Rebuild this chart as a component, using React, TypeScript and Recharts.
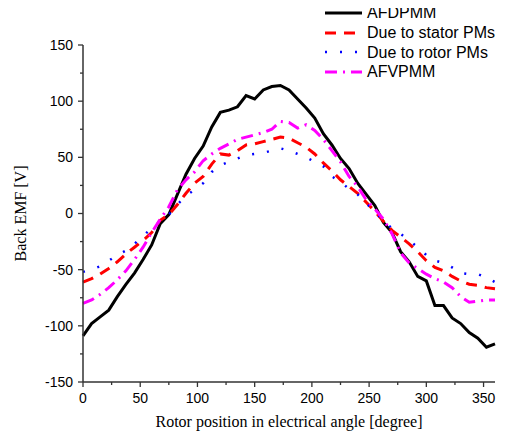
import { LineChart, Line, XAxis, YAxis, Legend } from 'recharts';

const angles = [
  0, 7.5, 15, 22.5, 30, 37.5, 45, 52.5, 60, 67.5, 75, 82.5, 90, 97.5, 105, 112.5, 120,
  127.5, 135, 142.5, 150, 157.5, 165, 172.5, 180, 187.5, 195, 202.5, 210, 217.5, 225,
  232.5, 240, 247.5, 255, 262.5, 270, 277.5, 285, 292.5, 300, 307.5, 315, 322.5, 330,
  337.5, 345, 352.5, 360,
];

const afdpmm = [
  -109, -98, -92, -86, -74, -63, -53, -41, -28, -9, -1, 17, 35, 49, 60, 77, 90,
  92, 95, 105, 102, 110, 113, 114, 110, 102, 94, 85, 71, 61, 49, 40, 27, 17, 7,
  -8, -17, -34, -43, -56, -60, -82, -82, -93, -98, -106, -111, -119, -116,
];

const statorPMs = [
  -61, -58, -54, -49, -43, -36, -30, -24, -17, -6, -1, 8, 18, 27, 33, 44, 53,
  52, 56, 61, 62, 64, 66, 68, 67, 63, 59, 53, 45, 38, 30, 24, 18, 10, 2,
  -7, -15, -21, -27, -34, -42, -48, -51, -56, -60, -63, -64, -66, -67,
];

const rotorPMs = [
  -52, -50, -47, -42, -37, -33, -27, -20, -13, -7, -1, 8, 16, 21, 27, 37, 43,
  46, 49, 52, 53, 54, 56, 58, 56, 53, 50, 46, 42, 33, 28, 22, 17, 9, 2,
  -7, -13, -18, -24, -30, -37, -42, -44, -48, -53, -54, -54, -57, -61,
];

const afvpmm = [
  -80, -77, -72, -66, -59, -51, -41, -30, -17, -5, 6, 21, 30, 37, 47, 53, 58,
  62, 66, 68, 70, 72, 75, 82, 81, 76, 79, 74, 66, 56, 46, 33, 24, 12, 4,
  -5, -18, -35, -44, -49, -54, -58, -61, -66, -74, -79, -78, -77, -77,
];

const xTicks = [0, 25, 50, 75, 100, 125, 150, 175, 200, 225, 250, 275, 300, 325, 350];
const yTicks = [-150, -125, -100, -75, -50, -25, 0, 25, 50, 75, 100, 125, 150];

const data = angles.map((a, i) => ({
  angle: a,
  afdpmm: afdpmm[i],
  stator: statorPMs[i],
  rotor: rotorPMs[i],
  afvpmm: afvpmm[i],
}));

const series = [
  { key: 'afdpmm', name: 'AFDPMM', color: '#000000', dash: undefined as string | undefined, width: 3 },
  { key: 'stator', name: 'Due to stator PMs', color: '#ff0000', dash: '11 8', width: 3 },
  { key: 'rotor', name: 'Due to rotor PMs', color: '#0000ff', dash: '2 13', width: 2.5 },
  { key: 'afvpmm', name: 'AFVPMM', color: '#ff00ff', dash: '12 6 2 6', width: 3 },
];

const AXIS = '#333';
const TICK_SIZE = 5;
const TICK_MARGIN = 3;
const sans = '"Liberation Sans", Arial, sans-serif';
const serif = '"Liberation Serif", "Times New Roman", serif';

function XTick({ x, y, payload }: any) {
  const major = payload.value % 50 === 0;
  const y0 = y - TICK_SIZE - TICK_MARGIN;
  return (
    <g>
      <line x1={x} x2={x} y1={y0} y2={y0 + (major ? 5 : 3)} stroke={AXIS} strokeWidth={1.3} />
      {major && (
        <text x={x} y={y0 + 21} textAnchor="middle" fontSize={14} fontFamily={sans} fill="#000">
          {payload.value}
        </text>
      )}
    </g>
  );
}

function YTick({ x, y, payload }: any) {
  const major = payload.value % 50 === 0;
  const x0 = x + TICK_SIZE + TICK_MARGIN;
  return (
    <g>
      <line x1={x0} x2={x0 - (major ? 5 : 3)} y1={y} y2={y} stroke={AXIS} strokeWidth={1.3} />
      {major && (
        <text x={x0 - 10} y={y} dy="0.35em" textAnchor="end" fontSize={14} fontFamily={sans} fill="#000">
          {payload.value}
        </text>
      )}
    </g>
  );
}

function LegendBox() {
  return (
    <div style={{ fontFamily: sans, fontSize: 16, color: '#000' }}>
      {series.map((s) => (
        <div key={s.key} style={{ display: 'flex', alignItems: 'center', height: 19.7 }}>
          <svg width={39} height={10} style={{ marginRight: 3 }}>
            <line x1={0} x2={37} y1={5} y2={5} stroke={s.color} strokeWidth={s.width} strokeDasharray={s.dash} />
          </svg>
          <span style={{ lineHeight: '19px', whiteSpace: 'nowrap' }}>{s.name}</span>
        </div>
      ))}
    </div>
  );
}

export default function App() {
  return (
    <LineChart
      width={497}
      height={427}
      data={data}
      margin={{ top: 37, right: 10, bottom: 8, left: 0 }}
    >
      <XAxis
        dataKey="angle"
        type="number"
        domain={[0, 360]}
        ticks={xTicks}
        interval={0}
        height={45}
        stroke={AXIS}
        strokeWidth={1.5}
        tickLine={false}
        tickSize={TICK_SIZE}
        tickMargin={TICK_MARGIN}
        tick={<XTick />}
        label={{
          value: 'Rotor position in electrical angle [degree]',
          position: 'insideBottom',
          offset: 0,
          style: { fontFamily: serif, fontSize: 16, fill: '#000' },
        }}
      />
      <YAxis
        type="number"
        domain={[-150, 150]}
        ticks={yTicks}
        interval={0}
        width={75}
        stroke={AXIS}
        strokeWidth={1.5}
        tickLine={false}
        tickSize={TICK_SIZE}
        tickMargin={TICK_MARGIN}
        tick={<YTick />}
        label={{
          value: 'Back EMF [V]',
          angle: -90,
          position: 'insideLeft',
          offset: 12,
          style: { fontFamily: serif, fontSize: 16, fill: '#000', textAnchor: 'middle' },
        }}
      />
      <Legend
        layout="vertical"
        align="center"
        verticalAlign="middle"
        content={<LegendBox />}
        wrapperStyle={{ position: 'absolute', left: 317, top: -5, width: 'auto', height: 'auto' }}
      />
      {series.map((s) => (
        <Line
          key={s.key}
          type="linear"
          dataKey={s.key}
          name={s.name}
          stroke={s.color}
          strokeWidth={s.width}
          strokeDasharray={s.dash}
          dot={false}
          activeDot={false}
          isAnimationActive={false}
        />
      ))}
    </LineChart>
  );
}
